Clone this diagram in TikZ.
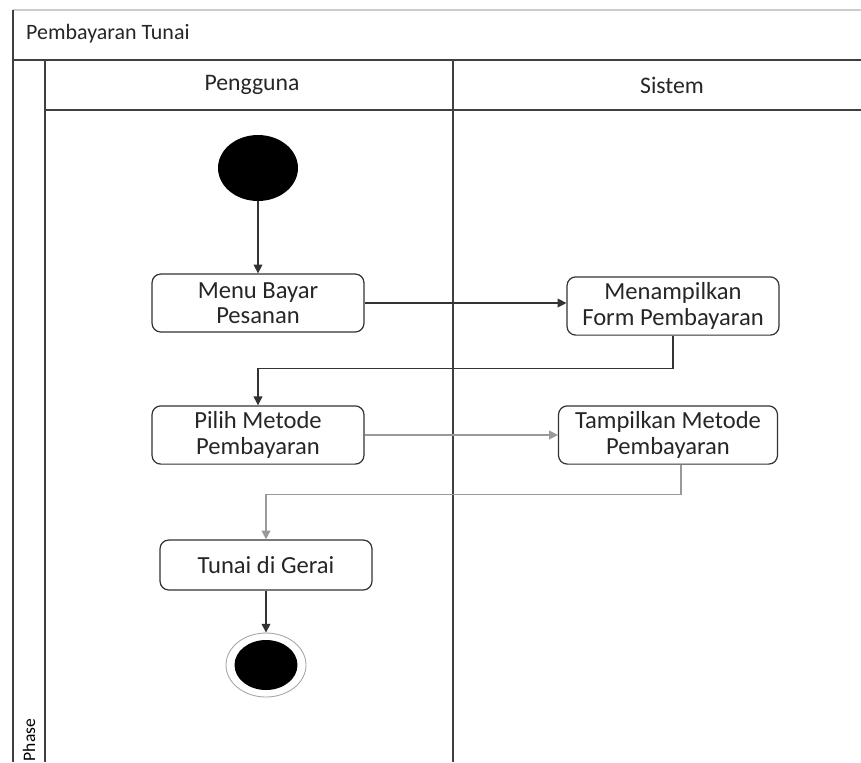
\documentclass[tikz,border=0pt]{standalone}
\usepackage{fontspec}
\setmainfont{Carlito}
\usetikzlibrary{arrows.meta,shapes.geometric}

\tikzset{
  lane/.style={draw=black!75,line width=1.1pt},
  act/.style={draw=black!80,line width=0.7pt,rounded corners=5pt,align=center,text=black!85,
    minimum width=4.24cm,minimum height=1.16cm,font=\fontsize{14}{14.5}\selectfont},
  flow/.style={draw=black!80,line width=0.7pt,-{Triangle[length=5pt,width=5pt]}},
  lightflow/.style={flow,draw=black!40}
}

\begin{document}
\begin{tikzpicture}[x=0.02cm,y=-0.02cm]
\useasboundingbox (0,0) rectangle (861,762);
% frame and swimlanes
\draw[black!20,line width=0.6pt] (13,10) -- (861,10);
\draw[lane] (13,10) -- (13,762);
\draw[lane] (13,60) -- (861,60);
\draw[lane] (45,60) -- (45,762);
\draw[lane] (45,110) -- (861,110);
\draw[lane] (453,60) -- (453,762);
\node[anchor=west,text=black!85,font=\fontsize{12.5}{14}\selectfont] (title) at (20,34) {Pembayaran Tunai};
\node[text=black!85,font=\fontsize{13.5}{15}\selectfont] (pengguna) at (252,85) {Pengguna};
\node[text=black!85,font=\fontsize{13.5}{15}\selectfont] (sistem) at (672,85) {Sistem};
\node[rotate=90,font=\fontsize{10}{11}\selectfont] (phase) at (29,740) {Phase};

% nodes
\node[ellipse,fill=black,minimum width=1.6cm,minimum height=1.32cm,inner sep=0pt] (start) at (258,168) {};
\node[act] (menu) at (258,303) {Menu Bayar\\Pesanan};
\node[act] (form) at (673,306) {Menampilkan\\Form Pembayaran};
\node[act] (pilih) at (258,435) {Pilih Metode\\Pembayaran};
\node[act,minimum width=4.38cm] (tampil) at (668,435) {Tampilkan Metode\\Pembayaran};
\node[act,minimum height=1cm] (tunai) at (266,565) {Tunai di Gerai};
\node[ellipse,draw=black!35,line width=0.5pt,minimum width=1.6cm,minimum height=1.28cm,inner sep=0pt] (final) at (266,665) {};
\node[ellipse,fill=black,minimum width=1.26cm,minimum height=1cm,inner sep=0pt] (finalin) at (266,665) {};

% connectors
\draw[flow] (start) -- (menu);
\draw[flow] (menu.east) -- (menu.east -| form.west);
\draw[flow] (form.south) -- ++(0,33) -| (pilih.north);
\draw[lightflow] (pilih.east) -- (pilih.east -| tampil.west);
\draw[lightflow] (tampil.south) ++(13,0) -- ++(0,30) -| (tunai.north);
\draw[flow] (tunai) -- (final);
\end{tikzpicture}
\end{document}
